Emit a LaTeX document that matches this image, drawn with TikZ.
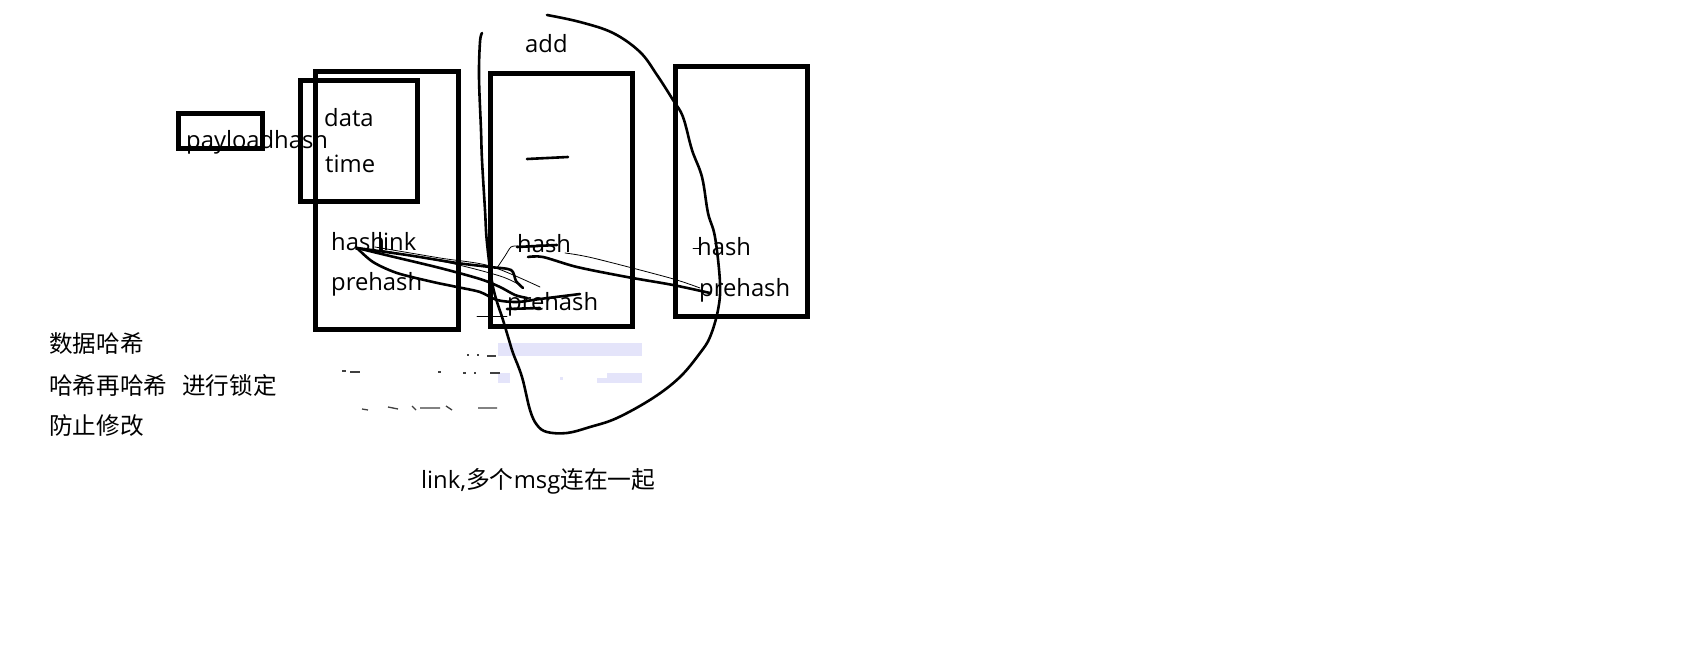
\documentclass[tikz,border=0pt]{standalone}
\usepackage{fontspec}
\setmainfont{Open Sans}
\newfontfamily\cjk{Noto Sans CJK SC}
\definecolor{lav}{RGB}{228,228,250}
\begin{document}
\begin{tikzpicture}[x=1pt,y=-1pt,
  boxst/.style={draw=black,line width=5pt,inner sep=0pt,anchor=north west},
  lbl/.style={inner sep=0pt,anchor=base west,font=\fontsize{23.8}{28}\selectfont},
  clbl/.style={inner sep=0pt,anchor=base west,font=\cjk\fontsize{23.6}{28}\selectfont},
  pen/.style={line width=2.6pt,line cap=round,line join=round},
  thin/.style={line width=0.8pt,line cap=round,line join=round},
  frag/.style={line width=1.3pt,black!75}]
\fill[white] (0,0) rectangle (1685,671);
\useasboundingbox (0,0) rectangle (1685,671);

% faint erased remnants
\fill[lav] (498,343) rectangle (642,356);
\fill[lav] (498,373) rectangle (510,383);
\fill[lav] (560,377) rectangle (563,380);
\fill[lav] (597,378) rectangle (607,383);
\fill[lav] (607,373) rectangle (642,383);
\draw[frag] (467,355) -- (469,355) (477,355) -- (479,355) (487,356) -- (496,356);
\draw[frag] (342,371) -- (346,371) (350,372) -- (360,372) (438,372) -- (441,372) (463,373) -- (466,373) (474,373) -- (476,373) (490,373) -- (500,373);
\draw[frag] (362,409) -- (368,410) (388,407) -- (398,409) (412,406) -- (416,410) (420,408) -- (440,408) (446,406) -- (452,410) (478,408) -- (497,408);

% boxes
\node[boxst,minimum width=84pt,minimum height=35.5pt] (pbox) at (175.5,111) {};
\node[boxst,minimum width=117pt,minimum height=120.5pt] (dbox) at (297.5,78) {};
\node[boxst,minimum width=143pt,minimum height=257.5pt] (m1) at (312.5,69) {};
\node[boxst,minimum width=142pt,minimum height=252.5pt] (m2) at (487.5,71) {};
\node[boxst,minimum width=132pt,minimum height=249.5pt] (m3) at (672.5,64) {};

% labels
\node[lbl] (tpay) at (186,149) {payloadhash};
\node[lbl] (tdata) at (324,127) {data};
\node[lbl] (ttime) at (325,173) {time};
\node[lbl] (th1) at (331,250) {hash};
\node[lbl] (tlink) at (377,250) {link};
\node[lbl] (tp1) at (331,290) {prehash};
\node[lbl] (tadd) at (525,53) {add};
\node[lbl] (th2) at (517,252) {hash};
\node[lbl] (tp2) at (507,310) {prehash};
\node[lbl] (th3) at (697,255) {hash};
\node[lbl] (tp3) at (699,296) {prehash};

\node[clbl] (c1) at (49,352) {数据哈希};
\node[clbl] (c2) at (49,394) {哈希再哈希};
\node[clbl] (c3) at (182,394) {进行锁定};
\node[clbl] (c4) at (49,434) {防止修改};
\node[lbl] (clink) at (421,488) {link,{\cjk 多个}msg{\cjk 连在一起}};

% big freehand loop
\draw[pen] plot[smooth,tension=0.6] coordinates {(482,33) (480,42) (479,77) (481,130) (482,160) (485,210) (487,243) (493,287) (503,320) (509,340) (513,353) (522,377) (530,410) (537,425) (547,432) (567,433) (590,427) (617,418) (653,398) (680,377) (700,353) (710,337) (718,310) (720,283) (715,237) (708,213) (702,177) (692,150) (683,117) (673,100) (657,75) (640,52) (613,33) (580,22) (547,15)};

% dash in middle box
\draw[pen] (527,159) -- (568,157);

% strokes from hashlink
\draw[pen] plot[smooth,tension=0.5] coordinates {(357,248) (407,255) (457,263) (490,267) (511,270) (516,281) (523,288)};
\draw[pen] plot[smooth,tension=0.5] coordinates {(357,248) (390,256) (440,268) (480,279) (500,287) (515,295) (527,298)};
\draw[pen] plot[smooth,tension=0.5] coordinates {(357,248) (373,262) (397,273) (433,282) (457,287) (480,292) (497,300) (517,302) (540,299) (580,294)};
\draw[pen] (507,309) -- (540,308);
\draw[thin] plot[smooth] coordinates {(375,247) (440,258) (490,266) (540,287)};
\draw[thin] plot[smooth] coordinates {(380,250) (450,263) (500,276) (520,285)};
\draw[thin] plot[smooth] coordinates {(497,268) (505,256) (511,247) (518,246)};

% strokes in middle / right
\draw[pen] (517,247) -- (557,245);
\draw[pen] plot[smooth,tension=0.5] coordinates {(528,257) (543,257) (577,267) (627,277) (673,285) (710,293)};
\draw[thin] plot[smooth] coordinates {(565,253) (593,258) (670,278) (700,288)};
\draw[thin] (693,248) -- (700,248);
\draw[thin] (477,316) -- (507,316);
\end{tikzpicture}
\end{document}
